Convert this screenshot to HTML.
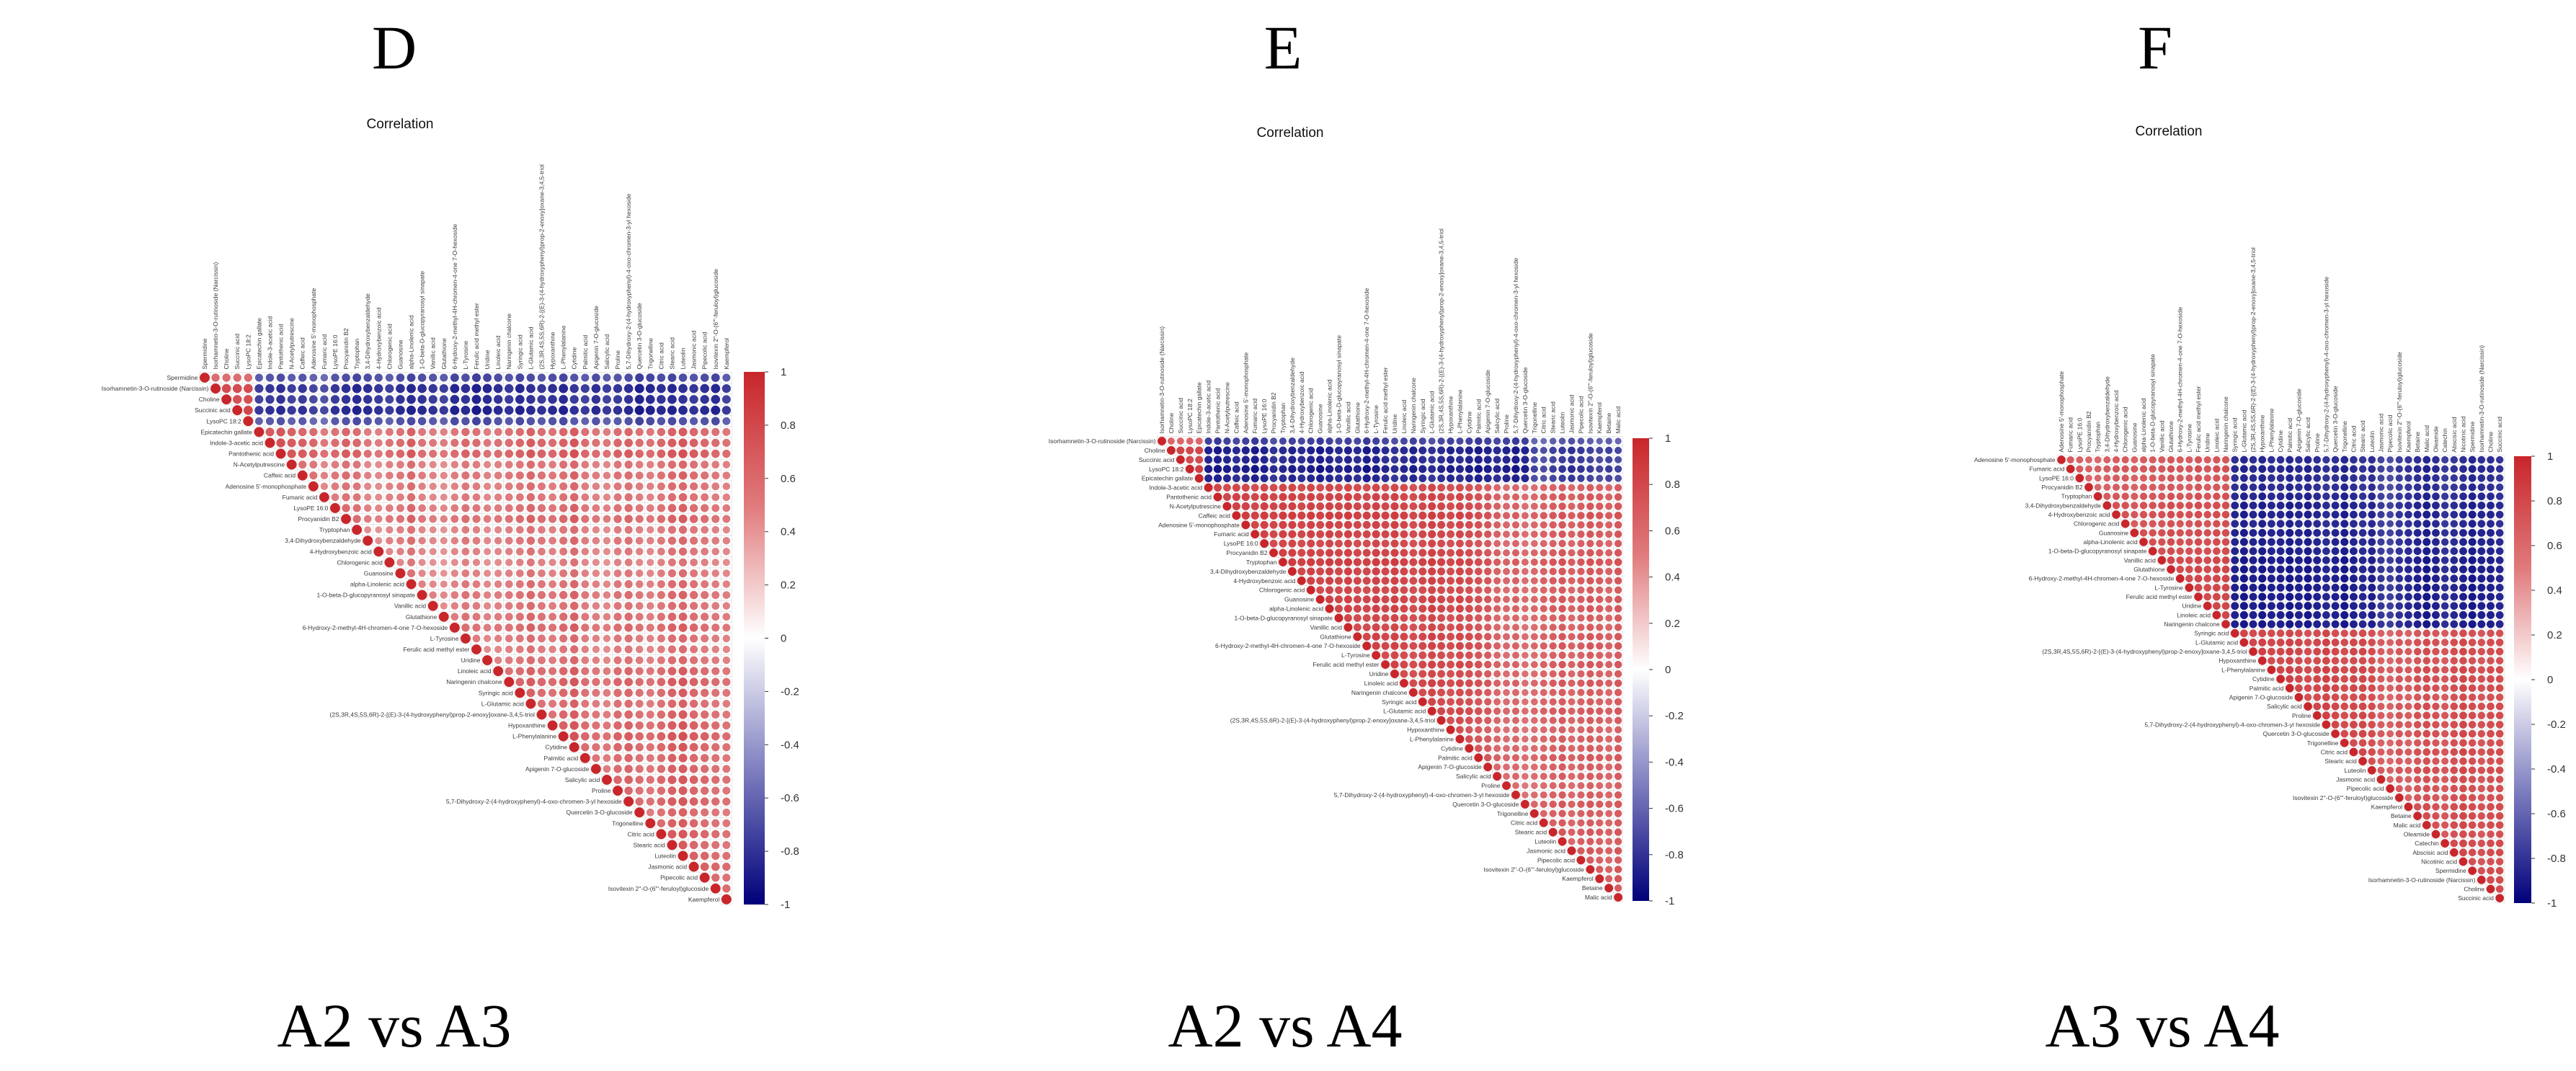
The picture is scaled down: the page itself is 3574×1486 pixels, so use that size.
<!DOCTYPE html>
<html><head><meta charset="utf-8">
<style>
html,body{margin:0;padding:0;background:#fff;}
svg{display:block;}
.big{font-family:"Liberation Serif",serif;fill:#000;}
.lbl{font-family:"Liberation Sans",sans-serif;font-size:8.5px;fill:#3a3a3a;}
.cbt{font-family:"Liberation Sans",sans-serif;font-size:15px;fill:#333;}
.ttl{font-family:"Liberation Sans",sans-serif;font-size:19px;fill:#111;}
</style></head>
<body>
<svg id="fig" width="3574" height="1486" viewBox="0 0 3574 1486" xmlns="http://www.w3.org/2000/svg">
  <text class="big" x="547" y="95" font-size="86" text-anchor="middle">D</text>
  <text class="big" x="1780" y="95" font-size="86" text-anchor="middle">E</text>
  <text class="big" x="2990" y="95" font-size="86" text-anchor="middle">F</text>
  <text class="big" x="547" y="1452" font-size="86" text-anchor="middle">A2 vs A3</text>
  <text class="big" x="1783" y="1452" font-size="86" text-anchor="middle">A2 vs A4</text>
  <text class="big" x="3000" y="1452" font-size="86" text-anchor="middle">A3 vs A4</text>
  <text class="ttl" x="555" y="178" text-anchor="middle">Correlation</text>
  <text class="ttl" x="1790" y="190" text-anchor="middle">Correlation</text>
  <text class="ttl" x="3009" y="188" text-anchor="middle">Correlation</text>
  <defs>
    <linearGradient id="cbg" x1="0" y1="0" x2="0" y2="1">
      <stop offset="0" stop-color="#c8262b"/>
      <stop offset="0.25" stop-color="#e07a7c"/>
      <stop offset="0.5" stop-color="#ffffff"/>
      <stop offset="0.75" stop-color="#7d7dbf"/>
      <stop offset="1" stop-color="#00007a"/>
    </linearGradient>
  </defs>
</svg>
<script>
// ---- data ----
const namePool = ["Spermidine","N-Acetylputrescine","4-Hydroxybenzoic acid","L-Tyrosine","Hypoxanthine","Quercetin 3-O-glucoside","Kaempferol","Isorhamnetin-3-O-rutinoside (Narcissin)","Caffeic acid","Chlorogenic acid","Ferulic acid methyl ester","L-Phenylalanine","Trigonelline","Betaine","Choline","Adenosine 5'-monophosphate","Guanosine","Uridine","Cytidine","Citric acid","Malic acid","Succinic acid","Fumaric acid","alpha-Linolenic acid","Linoleic acid","Palmitic acid","Stearic acid","Oleamide","LysoPC 18:2","LysoPE 16:0","1-O-beta-D-glucopyranosyl sinapate","Naringenin chalcone","Apigenin 7-O-glucoside","Luteolin","Catechin","Epicatechin gallate","Procyanidin B2","Vanillic acid","Syringic acid","Salicylic acid","Jasmonic acid","Abscisic acid","Indole-3-acetic acid","Tryptophan","Glutathione","L-Glutamic acid","Proline","Pipecolic acid","Nicotinic acid","Pantothenic acid","3,4-Dihydroxybenzaldehyde","6-Hydroxy-2-methyl-4H-chromen-4-one 7-O-hexoside"];
const longExtra = ["(2S,3R,4S,5S,6R)-2-[(E)-3-(4-hydroxyphenyl)prop-2-enoxy]oxane-3,4,5-triol","5,7-Dihydroxy-2-(4-hydroxyphenyl)-4-oxo-chromen-3-yl hexoside","Isovitexin 2''-O-(6'''-feruloyl)glucoside"];

const rowD = [0.55,0.85,0.8,0.9,0.5,0.7,0.75,0.8,0.6,0.65,0.6,0.6,0.65,0.7,0.55,0.6,0.55,0.5,0.55,0.6,0.65,0.6,0.65,0.7,0.6,0.55,0.6,0.7,0.75,0.7,0.65,0.7,0.75,0.8,0.75,0.7,0.7,0.75,0.7,0.75,0.65,0.7,0.75,0.7,0.75,0.8,0.75,0.8,0.8];
const colPosD = [0.8,0.8,0.8,0.8,0.8,0.85,0.8,0.85,0.75,0.7,0.65,0.5,0.6,0.7,0.65,0.5,0.45,0.55,0.6,0.75,0.55,0.5,0.45,0.55,0.65,0.6,0.5,0.55,0.6,0.65,0.75,0.65,0.6,0.7,0.8,0.6,0.55,0.5,0.65,0.7,0.6,0.55,0.65,0.75,0.8,0.7,0.65,0.6,0.55];
const colNegD = [0,0,0,0,0,0.7,0.75,0.8,0.7,0.75,0.65,0.6,0.75,0.8,0.85,0.8,0.75,0.7,0.8,0.85,0.8,0.75,0.7,0.85,0.8,0.9,0.85,0.8,0.75,0.85,0.8,0.75,0.8,0.85,0.75,0.7,0.8,0.7,0.75,0.8,0.9,0.85,0.8,0.85,0.8,0.75,0.8,0.85,0.7];

const rowE = [0.6,0.9,0.85,0.95,0.85,0.8,0.85,0.85,0.9,0.85,0.85,0.8,0.85,0.9,0.85,0.85,0.8,0.85,0.85,0.8,0.8,0.85,0.85,0.8,0.85,0.8,0.85,0.8,0.8,0.85,0.8,0.75,0.8,0.8,0.85,0.8,0.8,0.75,0.8,0.85,0.8,0.8,0.85,0.8,0.85,0.8,0.85,0.85,0.8,0.85];
const colPosE = [0.8,0.8,0.8,0.8,0.8,0.9,0.9,0.85,0.9,0.9,0.85,0.9,0.85,0.9,0.9,0.85,0.9,0.85,0.9,0.85,0.9,0.85,0.85,0.9,0.85,0.9,0.85,0.8,0.85,0.9,0.85,0.8,0.85,0.8,0.75,0.7,0.6,0.55,0.6,0.5,0.55,0.6,0.65,0.7,0.6,0.65,0.7,0.65,0.6,0.7];
const colNegE = [0,0,0,0,0.8,0.85,0.9,0.85,0.8,0.85,0.9,0.85,0.75,0.8,0.85,0.8,0.85,0.9,0.85,0.8,0.85,0.8,0.9,0.85,0.8,0.75,0.8,0.85,0.8,0.75,0.8,0.85,0.8,0.85,0.9,0.85,0.8,0.85,0.9,0.85,0.6,0.55,0.65,0.7,0.75,0.7,0.65,0.6,0.65,0.6];

const rowF = [0.7,0.75,0.7,0.7,0.75,0.8,0.8,0.75,0.8,0.8,0.8,0.85,0.85,0.85,0.85,0.85,0.85,0.85,0.85,0.8,0.85,0.85,0.8,0.85,0.85,0.85,0.8,0.85,0.85,0.85,0.85,0.8,0.85,0.8,0.85,0.8,0.8,0.8,0.85,0.85,0.85,0.8,0.85,0.85,0.8,0.85,0.85,0.85,0.85];
const colPosF = [0.75,0.8,0.75,0.7,0.7,0.75,0.8,0.8,0.75,0.8,0.8,0.8,0.85,0.8,0.8,0.85,0.8,0.85,0.85,0.85,0.9,0.85,0.9,0.85,0.85,0.9,0.85,0.8,0.85,0.9,0.85,0.8,0.85,0.85,0.8,0.65,0.6,0.7,0.65,0.75,0.8,0.75,0.7,0.8,0.85,0.8,0.75,0.8,0.8];
const colNegF = [0,0,0,0,0,0,0,0,0,0,0,0,0,0,0,0,0,0,0,0.9,0.95,0.9,0.95,0.9,0.9,0.95,0.9,0.95,0.9,0.85,0.9,0.95,0.9,0.85,0.9,0.75,0.7,0.8,0.85,0.9,0.95,0.9,0.8,0.85,0.9,0.95,0.9,0.9,0.85];

const cbTicks = ["1","0.8","0.6","0.4","0.2","0","-0.2","-0.4","-0.6","-0.8","-1"];

const panels = [
 {id:"d", x0:284, y0:524, step:15.08, n:49, gA:5, rows:rowD, pos:colPosD, neg:colNegD, cb:[1032,516,29,739], off:0},
 {id:"e", x0:1612, y0:612, step:12.92, n:50, gA:5, rows:rowE, pos:colPosE, neg:colNegE, cb:[2265,608,23,642], off:7},
 {id:"f", x0:2860, y0:638, step:12.67, n:49, gA:19, rows:rowF, pos:colPosF, neg:colNegF, cb:[3488,633,24,620], off:15}
];

const NS = "http://www.w3.org/2000/svg";
const svg = document.getElementById("fig");
function mk(tag, attrs, parent){
  const e = document.createElementNS(NS, tag);
  for (const k in attrs) e.setAttribute(k, attrs[k]);
  (parent||svg).appendChild(e);
  return e;
}
function colorFor(r){
  const t = Math.min(1, Math.abs(r));
  let c;
  if (r >= 0) c = [255 + (200-255)*t, 255 + (38-255)*t, 255 + (43-255)*t];
  else c = [255 + (0-255)*t, 255 + (0-255)*t, 255 + (125-255)*t];
  return "rgb(" + c.map(v=>Math.round(v)).join(",") + ")";
}
function nameAt(p, i){
  const k = (i*7 + p.off) % (namePool.length + longExtra.length);
  return k < namePool.length ? namePool[k] : longExtra[k - namePool.length];
}

panels.forEach(p => {
  const g = mk("g", {});
  
  
  const xs = j => p.x0 + j*p.step;
  const ys = i => p.y0 + i*p.step;
  const h = p.step/2;
  for (let i=0;i<p.n;i++){
    for (let j=i;j<p.n;j++){
      let r;
      if (i===j) r = 1;
      else if (i < p.gA && j >= p.gA) r = -(p.neg[j]*0.6 + p.rows[i]*0.4);
      else r = (p.pos[j] + p.rows[i]) / 2;
      const cell = mk("rect", {x:xs(j)-h, y:ys(i)-h, width:p.step, height:p.step, fill:"#fff", stroke:"#e4e4e4", "stroke-width":0.8}, g);
      
      
      const c = mk("circle", {cx:xs(j), cy:ys(i), r:Math.sqrt(Math.abs(r))*h*0.92, fill:colorFor(r)}, g);
      
      
    }
  }
  for (let i=0;i<p.n;i++){
    const nm = nameAt(p,i);
    const rl = mk("text", {x:xs(i)-h-2, y:ys(i)+3, "text-anchor":"end", class:"lbl"}, g);
    rl.textContent = nm;
    
    
    const cl = mk("text", {x:0, y:0, class:"lbl", transform:"translate(" + (xs(i)+3) + "," + (p.y0 - h - 4) + ") rotate(-90)"}, g);
    cl.textContent = nm;
    
    
  }
  const [bx,by,bw,bh] = p.cb;
  const bar = mk("rect", {x:bx, y:by, width:bw, height:bh, fill:"url(#cbg)"}, g);
  
  
  cbTicks.forEach((t,k) => {
    const y = by + k*bh/(cbTicks.length-1);
    const tk = mk("line", {x1:bx+bw, x2:bx+bw+5, y1:y, y2:y, stroke:"#333", "stroke-width":1}, g);
    
    
    const tl = mk("text", {x:bx+bw+22, y:y+5, class:"cbt"}, g);
    tl.textContent = t;
    
    
  });
});
</script>
</body></html>
